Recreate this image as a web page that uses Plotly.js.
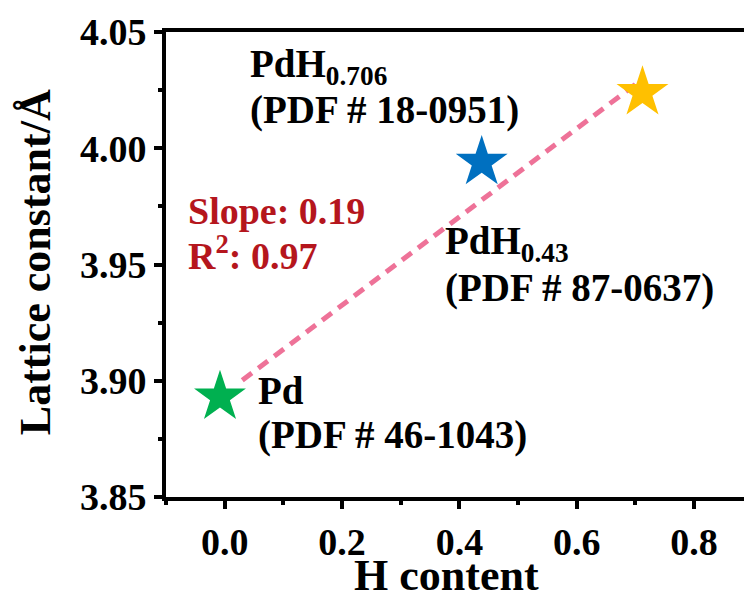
<!DOCTYPE html>
<html>
<head>
<meta charset="utf-8">
<script src="https://cdn.plot.ly/plotly-3.0.1.min.js"></script>
<style>
  html, body { margin: 0; padding: 0; background: #ffffff; overflow: hidden; }
  #chart { width: 744px; height: 592px; }
</style>
</head>
<body>
<div id="chart"></div>
<script>
// Hydrogen content and measured lattice constants (Å)
const phases = ['Pd', 'PdH0.43', 'PdH0.706'];
const hContent = [-0.008, 0.438, 0.712];
const latticeA = [3.893, 3.994, 4.024];
const starColors = ['#00B050', '#0070C0', '#FFC000'];

// Linear fit of lattice constant vs. H content
const fitSlope = 0.19;
const fitIntercept = 3.8945;
const fitR2 = 0.97;
const fitX = [0.03, 0.70];
const fitY = fitX.map(x => fitIntercept + fitSlope * x);

// Axis ticks and titles
const xTicks = [0.0, 0.2, 0.4, 0.6, 0.8];
const xTickText = ['0.0', '0.2', '0.4', '0.6', '0.8'];
const yTicks = [3.85, 3.90, 3.95, 4.00, 4.05];
const yTickText = ['3.85', '3.90', '3.95', '4.00', '4.05'];
const xTitle = 'H content';
const yTitle = 'Lattice constant/Å';

const serif = 'Liberation Serif, Times New Roman, serif';
const black = '#000000';
const red = '#B5161D';

const traces = [
  {
    x: fitX, y: fitY, type: 'scatter', mode: 'lines',
    line: { color: '#EE7298', width: 5, dash: '12px,8px' },
    hoverinfo: 'skip', showlegend: false
  },
  {
    x: hContent, y: latticeA, text: phases, type: 'scatter', mode: 'markers',
    marker: { symbol: 'star', size: 39, color: starColors, line: { width: 0 } },
    showlegend: false
  }
];

function label(x, y, text, color, size) {
  return {
    x: x, y: y, xref: 'x', yref: 'y', text: text, showarrow: false,
    xanchor: 'left', yanchor: 'middle', borderpad: 0, borderwidth: 0,
    font: { family: serif, size: size || 39, color: color || black, weight: 'bold' }
  };
}

const annotations = [
  label(0.0426, 4.0350, 'PdH<sub>0.706</sub>'),
  label(0.0426, 4.0165, '(PDF # 18-0951)'),
  label(-0.063, 3.9730, 'Slope: ' + fitSlope.toFixed(2), red, 38),
  label(-0.063, 3.9550, 'R<sup>2</sup>: ' + fitR2.toFixed(2), red, 38),
  label(0.375, 3.9590, 'PdH<sub>0.43</sub>'),
  label(0.375, 3.9400, '(PDF # 87-0637)'),
  label(0.0563, 3.8960, 'Pd'),
  label(0.0563, 3.8767, '(PDF # 46-1043)'),
  // axis titles
  {
    x: 0.3785, xref: 'x', y: 0, yref: 'paper', yshift: -78,
    text: xTitle, showarrow: false, xanchor: 'center', yanchor: 'middle',
    borderpad: 0, borderwidth: 0,
    font: { family: serif, size: 44, color: black, weight: 'bold' }
  },
  {
    x: 0, xref: 'paper', xshift: -131, y: 3.951, yref: 'y',
    text: yTitle, textangle: -90, showarrow: false, xanchor: 'center', yanchor: 'middle',
    borderpad: 0, borderwidth: 0,
    font: { family: serif, size: 44, color: black, weight: 'bold' }
  }
];

const layout = {
  width: 744, height: 592,
  margin: { l: 166, r: 0, t: 32, b: 95, pad: 0 },
  paper_bgcolor: '#ffffff', plot_bgcolor: '#ffffff',
  font: { family: serif, color: black },
  showlegend: false,
  xaxis: {
    range: [-0.1, 0.885],
    tickvals: xTicks, ticktext: xTickText,
    ticks: 'outside', ticklen: 8, tickwidth: 4, tickcolor: black,
    minor: { dtick: 0.1, tick0: 0.1, ticks: 'outside', ticklen: 4, tickwidth: 4, tickcolor: black, showgrid: false },
    showline: true, linewidth: 4, linecolor: black, mirror: true,
    showgrid: false, zeroline: false,
    tickfont: { family: serif, size: 38, color: black, weight: 'bold' }
  },
  yaxis: {
    range: [3.85, 4.05],
    tickvals: yTicks, ticktext: yTickText,
    ticks: 'outside', ticklen: 8, tickwidth: 4, tickcolor: black,
    minor: { dtick: 0.025, tick0: 3.85, ticks: 'outside', ticklen: 4, tickwidth: 4, tickcolor: black, showgrid: false },
    showline: true, linewidth: 4, linecolor: black, mirror: false,
    showgrid: false, zeroline: false,
    tickfont: { family: serif, size: 38, color: black, weight: 'bold' }
  },
  annotations: annotations
};

Plotly.newPlot('chart', traces, layout, { displayModeBar: false, staticPlot: true });
</script>
</body>
</html>
